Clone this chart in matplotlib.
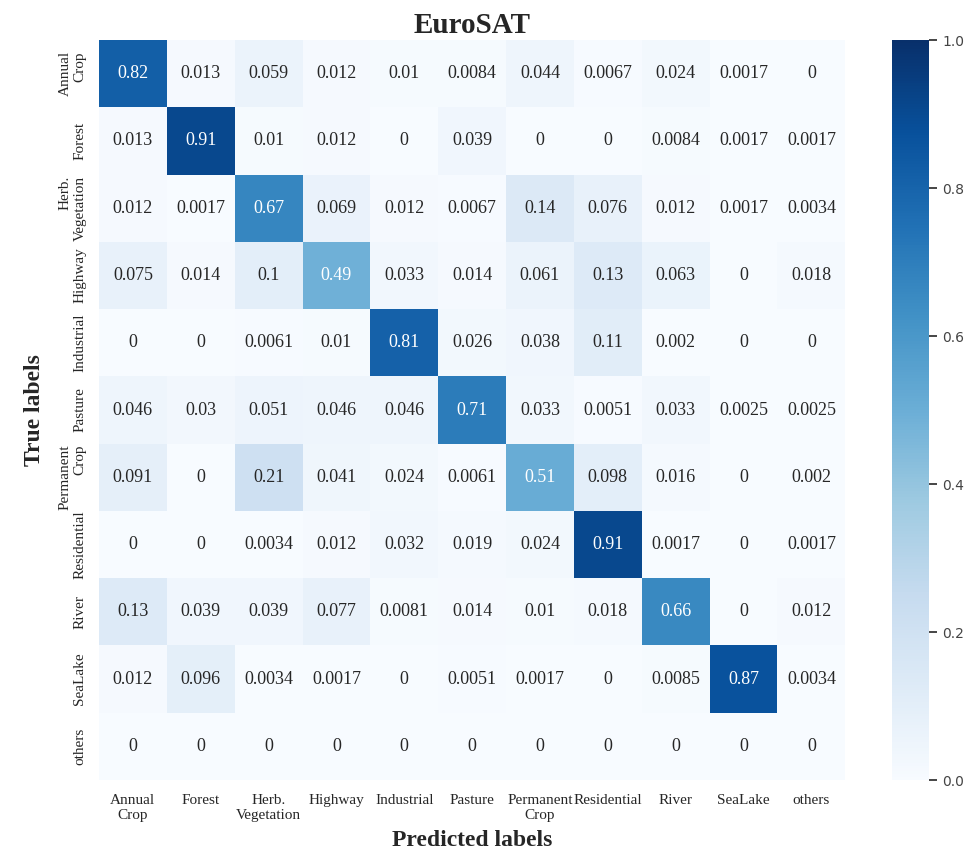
import numpy as np
import seaborn as sns
from matplotlib import pyplot as plt

classes = ["Annual\nCrop", "Forest", "Herb.\nVegetation", "Highway", "Industrial",
           "Pasture", "Permanent\nCrop", "Residential", "River", "SeaLake", "others"]

# normalised confusion matrix, rows = true class, columns = predicted class
annual_crop = [0.82, 0.013, 0.059, 0.012, 0.01, 0.0084, 0.044, 0.0067, 0.024, 0.0017, 0]
forest = [0.013, 0.91, 0.01, 0.012, 0, 0.039, 0, 0, 0.0084, 0.0017, 0.0017]
herb_vegetation = [0.012, 0.0017, 0.67, 0.069, 0.012, 0.0067, 0.14, 0.076, 0.012, 0.0017, 0.0034]
highway = [0.075, 0.014, 0.1, 0.49, 0.033, 0.014, 0.061, 0.13, 0.063, 0, 0.018]
industrial = [0, 0, 0.0061, 0.01, 0.81, 0.026, 0.038, 0.11, 0.002, 0, 0]
pasture = [0.046, 0.03, 0.051, 0.046, 0.046, 0.71, 0.033, 0.0051, 0.033, 0.0025, 0.0025]
permanent_crop = [0.091, 0, 0.21, 0.041, 0.024, 0.0061, 0.51, 0.098, 0.016, 0, 0.002]
residential = [0, 0, 0.0034, 0.012, 0.032, 0.019, 0.024, 0.91, 0.0017, 0, 0.0017]
river = [0.13, 0.039, 0.039, 0.077, 0.0081, 0.014, 0.01, 0.018, 0.66, 0, 0.012]
sealake = [0.012, 0.096, 0.0034, 0.0017, 0, 0.0051, 0.0017, 0, 0.0085, 0.87, 0.0034]
others = [0, 0, 0, 0, 0, 0, 0, 0, 0, 0, 0]

cm = np.array([annual_crop, forest, herb_vegetation, highway, industrial, pasture,
               permanent_crop, residential, river, sealake, others])

sns.set_theme(style="white")
serif = "Liberation Serif"
txt = "#262626"

fig = plt.figure(figsize=(9.75, 8.52), dpi=100)
ax = fig.add_axes([0.1015, 0.0845, 0.7655, 0.8685])
cax = fig.add_axes([0.915, 0.0845, 0.038, 0.8685])

sns.heatmap(cm, annot=True, fmt=".2g", cmap="Blues", vmin=0, vmax=1,
            ax=ax, cbar_ax=cax, square=False,
            annot_kws={"fontsize": 13, "family": serif})

ax.set_xticklabels(classes, fontsize=11, family=serif, color=txt, rotation=0)
ax.set_yticklabels(classes, fontsize=11, family=serif, color=txt, rotation=90,
                   va="center")
ax.tick_params(axis="x", length=0, pad=10)
ax.tick_params(axis="y", length=0, pad=9)
ax.set_title("EuroSAT", fontsize=21, fontweight="bold", family=serif, color=txt, pad=5)
ax.set_xlabel("Predicted labels", fontsize=17, fontweight="bold", family=serif, color=txt,
              labelpad=6)
ax.set_ylabel("True labels", fontsize=17, fontweight="bold", family=serif, color=txt,
              labelpad=10)

cax.tick_params(right=True, length=6, width=1.2, labelsize=10, colors=txt,
                labelcolor="#444444")
cax.set_yticks([0, 0.2, 0.4, 0.6, 0.8, 1.0])

fig.savefig("out.png", dpi=100)
